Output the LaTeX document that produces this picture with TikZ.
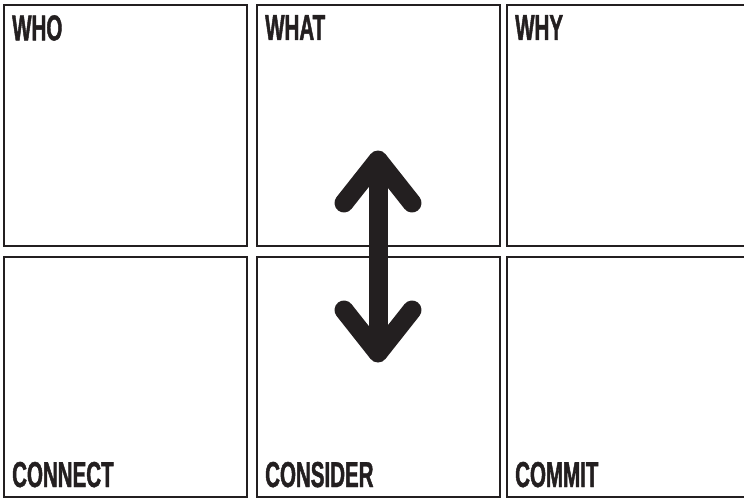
\documentclass[tikz,border=0pt]{standalone}
\usepackage{fontspec}
\newfontfamily\gridfont[FakeStretch=0.57,FakeBold=1.2]{Liberation Sans}
\usetikzlibrary{positioning,calc}
\definecolor{cInk}{HTML}{231F20}
\tikzset{
  cell/.style  ={draw=cInk,line width=2.6pt,minimum width=243pt,minimum height=241pt,
                 inner sep=0pt,outer sep=0pt,anchor=north west},
  lbl/.style   ={font=\gridfont\bfseries\fontsize{36}{36}\selectfont,text=cInk,
                 inner sep=0pt},
  fat/.style   ={draw=cInk,line width=19pt,line cap=round,line join=round},
}

\begin{document}
\begin{tikzpicture}[x=1pt, y=-1pt]
\useasboundingbox (0,0) rectangle (744,498);

% the six squares, top row then bottom row
\node[cell] (who)  at (4,5)   {};
\node[cell] (what) at (257,5) {};
\node[cell] (why)  at (507,5) {};
\node[cell,minimum height=240pt] (connect)  at (4,257)   {};
\node[cell,minimum height=240pt] (consider) at (257,257) {};
\node[cell,minimum height=240pt] (commit)   at (507,257) {};

% headings sit top left, the verbs bottom left
\node[lbl,anchor=north west] (whoT)  at ($(who.north west)+(8,10)$)  {WHO};
\node[lbl,anchor=north west] (whatT) at ($(what.north west)+(8,10)$) {WHAT};
\node[lbl,anchor=north west] (whyT)  at ($(why.north west)+(8,10)$)  {WHY};
\node[lbl,anchor=base west] (connectT)  at ($(connect.south west)+(8,-10)$)  {CONNECT};
\node[lbl,anchor=base west] (considerT) at ($(consider.south west)+(8,-10)$) {CONSIDER};
\node[lbl,anchor=base west] (commitT)   at ($(commit.south west)+(8,-10)$)   {COMMIT};

% the double arrow across the middle column
\coordinate (up) at (378,160);
\coordinate (dn) at (378,353);
\draw[fat,line cap=butt] (up) -- (dn);
\draw[fat] ($(up)+(-34,43)$) -- (up) -- ($(up)+(34,43)$);
\draw[fat] ($(dn)+(-34,-43)$) -- (dn) -- ($(dn)+(34,-43)$);
\end{tikzpicture}
\end{document}
